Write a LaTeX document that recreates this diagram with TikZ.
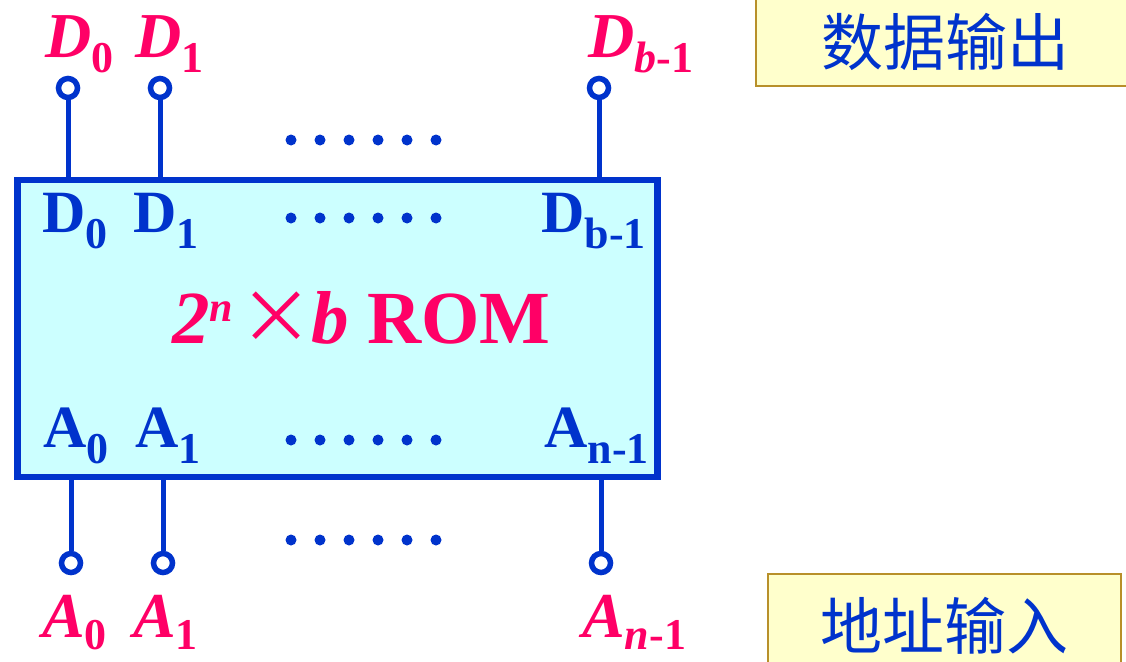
\documentclass[tikz,border=0pt]{standalone}
\usepackage{fontspec}
\setmainfont{Liberation Serif}
\newfontfamily\cjk{Noto Sans CJK SC}
\definecolor{pinred}{HTML}{FF0066}
\definecolor{pinblue}{HTML}{0033CC}
\definecolor{romfill}{HTML}{CCFFFF}
\definecolor{notefill}{HTML}{FFFFCC}
\definecolor{noteedge}{HTML}{B8902A}
\newcommand\redlab[2]{\fontsize{64}{64}\selectfont\bfseries{\itshape #1}\raisebox{-14pt}{\fontsize{44}{44}\selectfont #2}}
\newcommand\redlow[2]{\fontsize{64}{64}\selectfont\bfseries{\itshape #1}\raisebox{-12pt}{\fontsize{44}{44}\selectfont #2}}
\newcommand\bluelab[2]{\fontsize{60}{60}\selectfont\bfseries #1\raisebox{-16pt}{\fontsize{44}{44}\selectfont #2}}
\tikzset{
  pinline/.style={draw=pinblue, line width=5pt},
  pinring/.style={circle, draw=pinblue, fill=white, line width=5.5pt, minimum size=19pt, inner sep=0pt},
  dotmark/.style={circle, fill=pinblue, minimum size=11pt, inner sep=0pt},
  outlab/.style={text=pinred, anchor=base west, inner sep=0pt},
  inlab/.style={text=pinblue, anchor=base west, inner sep=0pt},
  notebox/.style={draw=noteedge, fill=notefill, line width=2pt},
  notetext/.style={text=pinblue, font=\cjk\fontsize{62}{62}\selectfont, inner sep=0pt}
}
\begin{document}
\begin{tikzpicture}[x=1pt,y=-1pt]
\useasboundingbox[fill=white] (0,0) rectangle (1126,661);
% ROM block
\node[draw=pinblue, fill=romfill, line width=6.5pt, minimum width=640pt, minimum height=297pt, inner sep=0pt, anchor=north west] (rom) at (14,176.5) {};
% top pins
\node[pinring] (pd0) at (68,88) {};
\node[pinring] (pd1) at (160,88) {};
\node[pinring] (pdb) at (599,88) {};
\foreach \p in {pd0,pd1,pdb}{\draw[pinline] (\p.south) -- (\p.south |- rom.north);}
% bottom pins
\node[pinring] (pa0) at (71,563) {};
\node[pinring] (pa1) at (163,563) {};
\node[pinring] (pan) at (601,563) {};
\foreach \p in {pa0,pa1,pan}{\draw[pinline] (\p.north) -- (\p.north |- rom.south);}
% dots
\foreach \y [count=\r] in {140,218,440,540}{
  \foreach \i in {0,...,5}{\node[dotmark] (dot\r-\i) at (291+29*\i,\y) {};}
}
% outer labels
\node[outlab] (ld0) at (45,58) {\redlab{D}{0}};
\node[outlab] (ld1) at (135,58) {\redlab{D}{1}};
\node[outlab] (ldb) at (588,58) {\redlab{D}{\itshape b\upshape -1}};
\node[outlab] (la0) at (42,637) {\redlow{A}{0}};
\node[outlab] (la1) at (133,637) {\redlow{A}{1}};
\node[outlab] (lan) at (582,637) {\redlow{A}{\itshape n\upshape -1}};
% inner labels
\node[inlab] (id0) at (42,232) {\bluelab{D}{0}};
\node[inlab] (id1) at (133,232) {\bluelab{D}{1}};
\node[inlab] (idb) at (541,232) {\bluelab{D}{b-1}};
\node[inlab] (ia0) at (43,447) {\bluelab{A}{0}};
\node[inlab] (ia1) at (135,447) {\bluelab{A}{1}};
\node[inlab] (ian) at (544,447) {\bluelab{A}{n-1}};
% title
\node[text=pinred, anchor=base west, inner sep=0pt] (title) at (172,343) {\fontsize{75}{75}\selectfont{\bfseries\itshape 2}\raisebox{22pt}{\fontsize{42}{42}\selectfont\bfseries\itshape n}\hspace{6pt}{\cjk\fontsize{74}{74}\selectfont ×}\hspace{-2pt}{\bfseries\itshape b} \bfseries ROM};
% note boxes
\draw[notebox] (756,-10) rectangle (1140,86);
\node[notetext] (outnote) at (945,42) {数据输出};
\draw[notebox] (768,574) rectangle (1121,675);
\node[notetext] (innote) at (944,626) {地址输入};
\end{tikzpicture}
\end{document}
